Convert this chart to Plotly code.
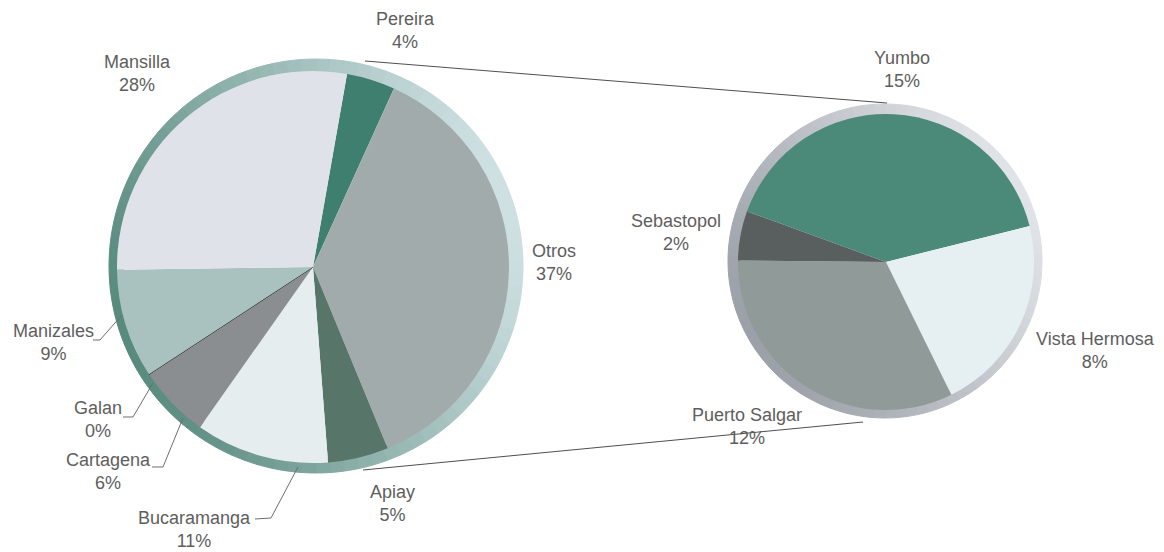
import math
import plotly.graph_objects as go

W, H = 1164, 552

# ---- data -------------------------------------------------------------
main_labels = ["Pereira", "Otros", "Apiay", "Bucaramanga", "Cartagena",
               "Galan", "Manizales", "Mansilla"]
main_values = [4, 37, 5, 11, 6, 0, 9, 28]

otros_labels = ["Yumbo", "Vista Hermosa", "Puerto Salgar", "Sebastopol"]
otros_values = [15, 8, 12, 2]

# ---- styling ----------------------------------------------------------
main_colors = ["#3f7f6f", "#a2abab", "#587569", "#e5edef", "#8b8e91",
               "#3b4a46", "#a9c2bf", "#dfe3e9"]
otros_colors = ["#4b8a78", "#e6eff1", "#8f9a99", "#595f5f"]

TEXT_COLOR = "#5e5e5e"
FONT = "Liberation Sans, Arial, sans-serif"

# pie geometry in pixels: (centre x, centre y, radius)
MAIN_PIE = (313, 267, 196)
MAIN_RIM = (316, 266, 207)
SIDE_PIE = (886, 262, 148)
SIDE_RIM = (885, 261, 157)

# label block centres in pixels
label_pos = {
    "Pereira": (405, 30), "Mansilla": (137, 73), "Otros": (554, 262),
    "Apiay": (392, 504), "Bucaramanga": (194, 529), "Cartagena": (108, 471),
    "Galan": (98, 419), "Manizales": (53, 342),
    "Yumbo": (902, 69), "Vista Hermosa": (1095, 350),
    "Puerto Salgar": (747, 426), "Sebastopol": (676, 232),
}

# leader lines for the crowded labels on the lower left
leaders = [
    [(93, 340), (100, 340), (122, 315)],
    [(123, 417), (133, 417), (153, 383)],
    [(152, 467), (163, 467), (183, 418)],
    [(255, 519), (271, 518), (298, 467)],
]

# connectors between the "Otros" slice and its breakdown
connectors = [((365, 61), (887, 103)), ((363, 470), (863, 422))]


def px(x):
    return x / W


def py(y):
    return 1 - y / H


def domain(cx, cy, r):
    return dict(x=[px(cx - r), px(cx + r)], y=[py(cy + r), py(cy - r)])


def rim_colors(light, dark, light_angle, steps):
    cols = []
    for i in range(steps):
        a = (i + 0.5) * 360 / steps
        t = (1 + math.cos(math.radians(a - light_angle))) / 2
        c = [round(d + (l - d) * t) for l, d in zip(light, dark)]
        cols.append("rgb(%d,%d,%d)" % tuple(c))
    return cols


def rim_trace(geom, inner_r, light, dark, light_angle, steps=90):
    cx, cy, r = geom
    cols = rim_colors(light, dark, light_angle, steps)
    return go.Pie(
        values=[1] * steps, sort=False, direction="clockwise", rotation=0,
        hole=(inner_r - 3) / r, domain=domain(cx, cy, r),
        marker=dict(colors=cols, line=dict(color=cols, width=1)),
        textinfo="none", hoverinfo="skip", showlegend=False,
    )


fig = go.Figure()

# raised rims behind both pies
fig.add_trace(rim_trace(MAIN_RIM, MAIN_PIE[2], (206, 224, 226), (88, 138, 126), 70))
fig.add_trace(rim_trace(SIDE_RIM, SIDE_PIE[2], (224, 227, 231), (156, 160, 168), 60))

line_w = [1 if v == 0 else 0 for v in main_values]
fig.add_trace(go.Pie(
    labels=main_labels, values=main_values, sort=False,
    direction="clockwise", rotation=10,
    domain=domain(*MAIN_PIE),
    marker=dict(colors=main_colors, line=dict(color="#2e3a37", width=line_w)),
    textinfo="none", textposition="none", showlegend=False,
    hovertemplate="%{label}: %{value}%<extra></extra>",
))

fig.add_trace(go.Pie(
    labels=otros_labels, values=otros_values, sort=False,
    direction="clockwise", rotation=-70,
    domain=domain(*SIDE_PIE),
    marker=dict(colors=otros_colors, line=dict(width=0)),
    textinfo="none", textposition="none", showlegend=False,
    hovertemplate="%{label}: %{value}%<extra></extra>",
))

# category labels with their percentages
annotations = []
for name, val in list(zip(main_labels, main_values)) + list(zip(otros_labels, otros_values)):
    x, y = label_pos[name]
    annotations.append(dict(
        x=px(x), y=py(y), xref="paper", yref="paper",
        text=f"{name}<br>{val}%", showarrow=False,
        xanchor="center", yanchor="middle", align="center",
        font=dict(family=FONT, size=18, color=TEXT_COLOR),
    ))

shapes = []
for (x0, y0), (x1, y1) in connectors:
    shapes.append(dict(type="line", xref="paper", yref="paper",
                       x0=px(x0), y0=py(y0), x1=px(x1), y1=py(y1),
                       line=dict(color="#4f4f4f", width=1), layer="above"))
for pts in leaders:
    path = "M " + " L ".join(f"{px(x):.5f},{py(y):.5f}" for x, y in pts)
    shapes.append(dict(type="path", xref="paper", yref="paper", path=path,
                       line=dict(color="#6e6e6e", width=1), layer="above"))

fig.update_layout(
    width=W, height=H, autosize=False,
    margin=dict(l=0, r=0, t=0, b=0),
    paper_bgcolor="white", plot_bgcolor="white",
    annotations=annotations, shapes=shapes,
    font=dict(family=FONT, color=TEXT_COLOR),
)

fig.write_html("out.html")
